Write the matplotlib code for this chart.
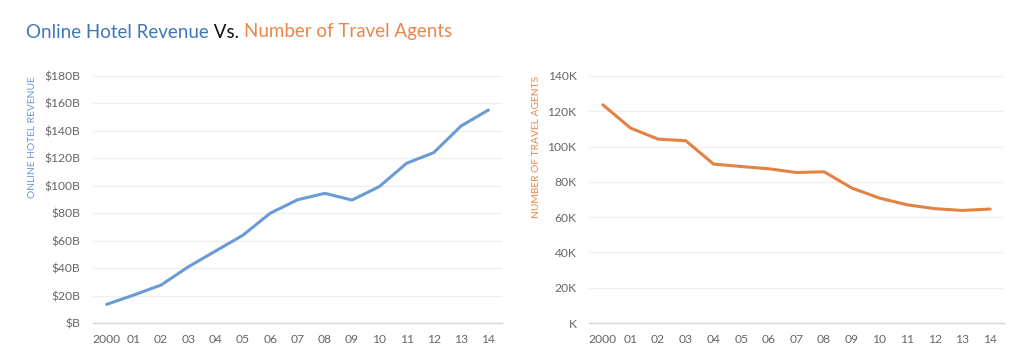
import matplotlib
matplotlib.use("Agg")
import matplotlib.pyplot as plt
from matplotlib.ticker import FuncFormatter

years = ["2000", "01", "02", "03", "04", "05", "06", "07", "08", "09", "10", "11", "12", "13", "14"]
revenue_b = [13.6, 20.4, 27.7, 41.0, 52.5, 64.0, 80.0, 89.8, 94.5, 89.6, 99.4, 116.4, 124.2, 143.6, 155.2]
agents_k = [123.7, 110.5, 104.2, 103.3, 90.1, 88.7, 87.4, 85.3, 85.7, 76.5, 70.8, 67.0, 64.8, 63.8, 64.6]
rev_ticks = [0, 20, 40, 60, 80, 100, 120, 140, 160, 180]
agent_ticks = [0, 20, 40, 60, 80, 100, 120, 140]

FONT = "Lato"
plt.rcParams['font.family'] = [FONT, 'DejaVu Sans']

BLUE_T = "#3f78b9"
ORANGE_T = "#e8874a"
BLUE_L = "#6b9bd4"
ORANGE_L = "#e38242"
TICK = "#666666"

fig = plt.figure(figsize=(10.24, 3.63), dpi=100)
ax1 = fig.add_axes([93/1024, 40/363, 409/1024, 247/363])
ax2 = fig.add_axes([589/1024, 40/363, 415/1024, 247/363])

x = list(range(len(years)))

def style(ax, ticks, fmt, color, label):
    ax.set_xlim(-0.5, len(years) - 0.5)
    ax.set_ylim(ticks[0], ticks[-1])
    ax.set_yticks(ticks)
    ax.yaxis.set_major_formatter(FuncFormatter(fmt))
    ax.set_xticks(x)
    ax.set_xticklabels(years)
    for s in ["top", "right", "left"]:
        ax.spines[s].set_visible(False)
    ax.spines["bottom"].set_color("#d6d6d6")
    ax.spines["bottom"].set_linewidth(1.0)
    ax.grid(axis="y", color="#efefef", linewidth=0.9)
    ax.set_axisbelow(True)
    ax.tick_params(axis="both", length=0, labelsize=8.7, labelcolor=TICK)
    ax.tick_params(axis="y", pad=9)
    ax.tick_params(axis="x", pad=8)
    ax.set_ylabel(label, color=color, fontsize=7.4, loc="top")

style(ax1, rev_ticks, lambda v, p: "$%dB" % v if v else "$B", BLUE_L, "ONLINE HOTEL REVENUE")
style(ax2, agent_ticks, lambda v, p: "%dK" % v if v else "K", ORANGE_T, "NUMBER OF TRAVEL AGENTS")

ax1.plot(x, revenue_b, color=BLUE_L, linewidth=2.2, solid_capstyle="round", solid_joinstyle="round")
ax2.plot(x, agents_k, color=ORANGE_L, linewidth=2.2, solid_capstyle="round", solid_joinstyle="round")

ax1.yaxis.set_label_coords(-0.137, 1.0)
ax2.yaxis.set_label_coords(-0.116, 1.0)

t1 = fig.text(26/1024, 1 - 32/363, "Online Hotel Revenue", color=BLUE_T, fontsize=13.5, va="center", ha="left")
t2 = plt.annotate(" Vs. ", xy=(1, 0), xycoords=t1, va="bottom", ha="left", color="#111111", fontsize=13.5, annotation_clip=False)
t3 = plt.annotate("Number of Travel Agents", xy=(1, 0), xycoords=t2, va="bottom", ha="left", color=ORANGE_T, fontsize=13.5, annotation_clip=False)

fig.savefig("out.png", dpi=100, facecolor="white")
